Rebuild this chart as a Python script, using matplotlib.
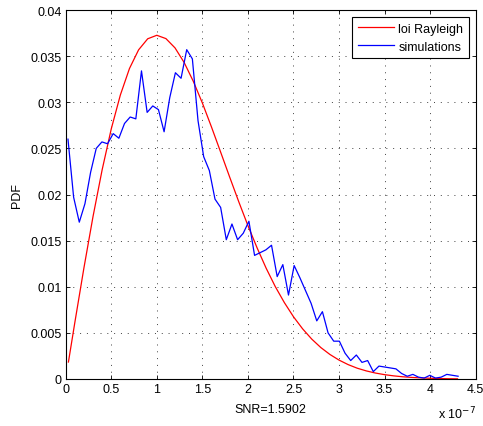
import numpy as np
import matplotlib
matplotlib.use('Agg')
from matplotlib import pyplot as plt
from matplotlib.ticker import FuncFormatter

plt.rcParams['font.family'] = ['Liberation Sans', 'DejaVu Sans']
plt.rcParams['font.size'] = 9

# simulated histogram (bin centres in units of 1e-7)
sim_first, sim_last = 0.025, 4.307
sim_y = [0.0260, 0.0197, 0.0170, 0.0190, 0.0224, 0.0250, 0.0257, 0.0255, 0.0266, 0.0261,
         0.0277, 0.0284, 0.0282, 0.0334, 0.0289, 0.0296, 0.0292, 0.0268, 0.0305, 0.0332,
         0.0326, 0.0357, 0.0347, 0.0280, 0.0241, 0.0226, 0.0195, 0.0186, 0.0151, 0.0168,
         0.0151, 0.0158, 0.0171, 0.0134, 0.0137, 0.0140, 0.0145, 0.0111, 0.0124, 0.0091,
         0.0123, 0.0110, 0.0096, 0.0082, 0.0063, 0.0073, 0.0050, 0.0041, 0.0041, 0.0028,
         0.0020, 0.0026, 0.0018, 0.0020, 0.0008, 0.0014, 0.0013, 0.0012, 0.0011, 0.0006,
         0.0003, 0.0005, 0.0002, 0.0001, 0.0004, 0.0001, 0.0002, 0.0005, 0.0004, 0.0003]
sim_x = np.linspace(sim_first, sim_last, len(sim_y))

# theoretical Rayleigh curve
ray_x = [0.03, 0.1, 0.2, 0.3, 0.4, 0.5, 0.6, 0.7, 0.8, 0.9, 1.0, 1.1, 1.2, 1.3, 1.4,
         1.5, 1.6, 1.7, 1.8, 1.9, 2.0, 2.1, 2.2, 2.3, 2.4, 2.5, 2.6, 2.7, 2.8, 2.9,
         3.0, 3.1, 3.2, 3.3, 3.4, 3.5, 3.6, 3.7, 3.8, 3.9, 4.0, 4.1, 4.2, 4.3]
ray_y = [0.00184, 0.00611, 0.01204, 0.01762, 0.02268, 0.02711, 0.03079, 0.03366, 0.03568,
         0.03688, 0.03726, 0.03690, 0.03589, 0.03431, 0.03228, 0.02992, 0.02732, 0.02461,
         0.02188, 0.01920, 0.01663, 0.01423, 0.01201, 0.01002, 0.00828, 0.00675, 0.00544,
         0.00433, 0.00341, 0.00266, 0.00205, 0.00156, 0.00117, 0.000875, 0.000645, 0.00047,
         0.00034, 0.00024, 0.00017, 0.00012, 0.00008, 0.00005, 0.00003, 0.00002]

fig = plt.figure(figsize=(4.83, 4.27), dpi=100)
ax = fig.add_axes([65.7/483, 1-380/427, 410/483, 369/427])

ax.plot(ray_x, ray_y, color='r', linewidth=0.9, label='loi Rayleigh')
ax.plot(sim_x, sim_y, color='b', linewidth=0.9, label='simulations')

ax.set_xlim(0, 4.5)
ax.set_ylim(0, 0.04)
ax.set_xticks(np.arange(0, 4.51, 0.5))
ax.set_yticks(np.arange(0, 0.0401, 0.005))
ax.xaxis.set_major_formatter(FuncFormatter(lambda v, p: '%g' % round(v, 3)))
ax.yaxis.set_major_formatter(FuncFormatter(lambda v, p: '%g' % round(v, 4)))
ax.tick_params(direction='in', top=True, right=True, length=3, width=0.6, pad=3)
ax.grid(True, color='0.25', linestyle=(0, (1, 6)), linewidth=0.7)
for s in ax.spines.values():
    s.set_linewidth(0.8)

ax.set_xlabel('SNR=1.5902', labelpad=6)
ax.set_ylabel('PDF', labelpad=5)

fig.text(476/483, 1-419/427, r'x 10$^{-7}$', ha='right', va='baseline', fontsize=9)

leg = ax.legend(loc='upper right', fancybox=False, shadow=False, edgecolor='k',
                framealpha=1, borderaxespad=0.55, handlelength=2.9, handletextpad=0.35,
                borderpad=0.45, labelspacing=0.5)
leg.get_frame().set_linewidth(0.8)

fig.savefig('out.png', dpi=100)
